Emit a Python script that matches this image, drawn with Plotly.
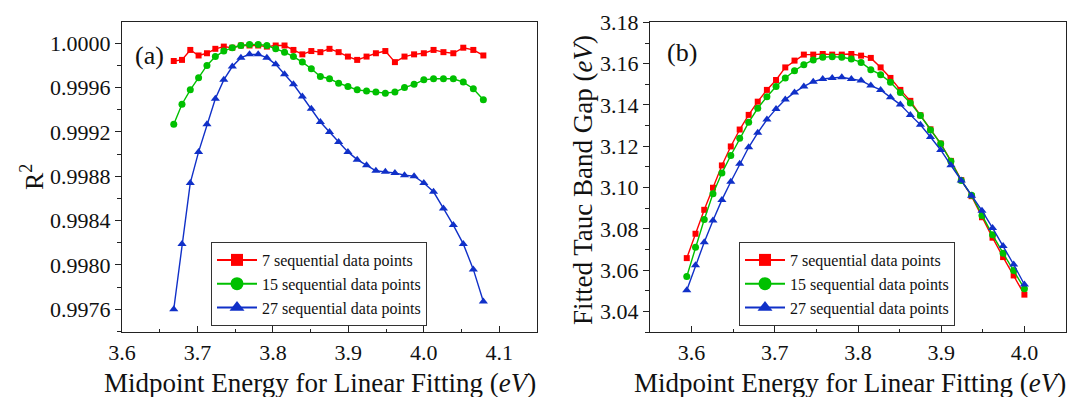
import plotly.graph_objects as go

# ---- Panel (a): R^2 vs midpoint energy ----
energy_a = [3.6686, 3.6795, 3.6905, 3.7015, 3.7126, 3.7237, 3.7349, 3.7462, 3.7576,
            3.7690, 3.7805, 3.7920, 3.8037, 3.8154, 3.8272, 3.8390, 3.8509, 3.8629,
            3.8750, 3.8871, 3.8994, 3.9117, 3.9241, 3.9365, 3.9490, 3.9617, 3.9744,
            3.9871, 4.0000, 4.0129, 4.0260, 4.0391, 4.0523, 4.0656, 4.0789]
r2_7 = [0.99984, 0.99985, 0.99994, 0.99989, 0.99991, 0.99995, 0.99997, 0.99996, 0.99998,
        0.99998, 0.99998, 0.99997, 0.99998, 0.99998, 0.99994, 0.99990, 0.99993, 0.99992,
        0.99995, 0.99992, 0.99988, 0.99985, 0.99988, 0.99991, 0.99993, 0.99983, 0.99988,
        0.99990, 0.99991, 0.99994, 0.99992, 0.99991, 0.99996, 0.99994, 0.99989]
r2_15 = [0.99927, 0.99945, 0.99958, 0.99969, 0.99980, 0.99988, 0.99993, 0.99996, 0.99998,
         0.99999, 0.99999, 0.99998, 0.99995, 0.99992, 0.99988, 0.99983, 0.99977, 0.99970,
         0.99968, 0.99964, 0.99961, 0.99958, 0.99957, 0.99956, 0.99955, 0.99956, 0.99960,
         0.99963, 0.99967, 0.99968, 0.99968, 0.99968, 0.99965, 0.99959, 0.99949]
r2_27 = [0.99760, 0.99819, 0.99874, 0.99902, 0.99927, 0.99950, 0.99967, 0.99979, 0.99987,
         0.99990, 0.99990, 0.99987, 0.99981, 0.99972, 0.99963, 0.99952, 0.99941, 0.99929,
         0.99920, 0.99911, 0.99902, 0.99895, 0.99890, 0.99885, 0.99884, 0.99883, 0.99881,
         0.99880, 0.99874, 0.99866, 0.99851, 0.99836, 0.99819, 0.99796, 0.99767]

# ---- Panel (b): fitted Tauc band gap vs midpoint energy ----
energy_b = [3.5942, 3.6047, 3.6152, 3.6257, 3.6364, 3.6471, 3.6578, 3.6686, 3.6795,
            3.6905, 3.7015, 3.7126, 3.7237, 3.7349, 3.7462, 3.7576, 3.7690, 3.7805,
            3.7920, 3.8037, 3.8154, 3.8272, 3.8390, 3.8509, 3.8629, 3.8750, 3.8871,
            3.8994, 3.9117, 3.9241, 3.9365, 3.9490, 3.9617, 3.9744, 3.9871, 4.0000]
gap_7 = [3.0658, 3.0776, 3.0892, 3.0999, 3.1107, 3.1199, 3.1281, 3.1352, 3.1416,
         3.1473, 3.1521, 3.1582, 3.1615, 3.1644, 3.1644, 3.1647, 3.1644, 3.1644,
         3.1647, 3.1639, 3.1628, 3.1582, 3.1531, 3.1473, 3.1420, 3.1350, 3.1282,
         3.1213, 3.1129, 3.1036, 3.0958, 3.0856, 3.0757, 3.0663, 3.0574, 3.0481]
gap_15 = [3.0569, 3.0711, 3.0845, 3.0970, 3.1070, 3.1155, 3.1239, 3.1316, 3.1384,
          3.1440, 3.1489, 3.1531, 3.1566, 3.1595, 3.1618, 3.1631, 3.1634, 3.1631,
          3.1623, 3.1606, 3.1571, 3.1547, 3.1510, 3.1461, 3.1410, 3.1349, 3.1279,
          3.1212, 3.1127, 3.1034, 3.0962, 3.0865, 3.0771, 3.0682, 3.0598, 3.0510]
gap_27 = [3.0502, 3.0623, 3.0735, 3.0840, 3.0940, 3.1028, 3.1115, 3.1195, 3.1265,
          3.1329, 3.1381, 3.1426, 3.1461, 3.1490, 3.1513, 3.1526, 3.1531, 3.1534,
          3.1526, 3.1518, 3.1494, 3.1473, 3.1437, 3.1402, 3.1352, 3.1304, 3.1245,
          3.1182, 3.1108, 3.1034, 3.0960, 3.0888, 3.0804, 3.0717, 3.0627, 3.0530]

series_names = ["7 sequential data points", "15 sequential data points", "27 sequential data points"]
colors = ["#FF0000", "#00C000", "#1030C8"]
symbols = ["square", "circle", "triangle-up"]
msizes = [6, 7, 8]
legend_msizes = [12, 13, 13]

FONT = "Liberation Serif"
W, H = 1067, 397

fig = go.Figure()

panels = [
    ("x", "y", "legend", energy_a, [r2_7, r2_15, r2_27]),
    ("x2", "y2", "legend2", energy_b, [gap_7, gap_15, gap_27]),
]
for xa, ya, lg, xs, ys_list in panels:
    for i, ys in enumerate(ys_list):
        fig.add_trace(go.Scatter(
            x=xs, y=ys, xaxis=xa, yaxis=ya, mode="lines+markers",
            line=dict(color=colors[i], width=1.4),
            marker=dict(symbol=symbols[i], size=msizes[i], color=colors[i]),
            name=series_names[i], showlegend=False, legend=lg))
    for i in range(3):
        fig.add_trace(go.Scatter(
            x=[None], y=[None], xaxis=xa, yaxis=ya, mode="lines+markers",
            line=dict(color=colors[i], width=2),
            marker=dict(symbol=symbols[i], size=legend_msizes[i], color=colors[i]),
            name=series_names[i], showlegend=True, legend=lg))

def px_x(p):
    return p / W

def px_y(p):
    return 1 - p / H

axis_common = dict(showline=True, linecolor="#222", linewidth=1.4, mirror=True,
                   showgrid=False, zeroline=False, automargin=False,
                   tickfont=dict(family=FONT, size=22, color="#111"))

legend_common = dict(xanchor="left", yanchor="top", bgcolor="white", bordercolor="#333",
                     borderwidth=1, font=dict(family=FONT, size=16, color="#111"),
                     itemwidth=40, tracegroupgap=0)

fig.update_layout(
    template="none",
    width=W, height=H, margin=dict(l=0, r=0, t=0, b=0, pad=0),
    paper_bgcolor="white", plot_bgcolor="white",
    font=dict(family=FONT, color="#111"),
    xaxis=dict(domain=[px_x(122), px_x(537)], range=[3.6, 4.15], dtick=0.1, tick0=3.6,
               tickformat=".1f", ticks="inside", ticklen=6, tickcolor="#222", tickwidth=1.2,
               minor=dict(dtick=0.05, tick0=3.6, ticks="inside", ticklen=3, tickcolor="#222"),
               anchor="y", **axis_common),
    yaxis=dict(domain=[px_y(332), px_y(22)], range=[0.997395, 1.000192], dtick=0.0004,
               tick0=0.9976, tickformat=".4f", ticks="outside", ticklen=6, tickcolor="#222", tickwidth=1.2,
               minor=dict(dtick=0.0002, tick0=0.9976, ticks="outside", ticklen=4, tickcolor="#222"),
               anchor="x", **axis_common),
    xaxis2=dict(domain=[px_x(650), px_x(1066)], range=[3.55, 4.05], dtick=0.1, tick0=3.6,
                tickformat=".1f", ticks="inside", ticklen=6, tickcolor="#222", tickwidth=1.2,
                minor=dict(dtick=0.05, tick0=3.55, ticks="inside", ticklen=3, tickcolor="#222"),
                anchor="y2", **axis_common),
    yaxis2=dict(domain=[px_y(332), px_y(22)], range=[3.03, 3.1802], dtick=0.02, tick0=3.04,
                tickformat=".2f", ticks="outside", ticklen=6, tickcolor="#222", tickwidth=1.2,
                minor=dict(dtick=0.01, tick0=3.04, ticks="outside", ticklen=4, tickcolor="#222"),
                anchor="x2", **axis_common),
    legend=dict(x=px_x(211), y=px_y(242), **legend_common),
    legend2=dict(x=px_x(739), y=px_y(242), **legend_common),
)

annotations = [
    dict(text="Midpoint Energy for Linear Fitting (<i>eV</i>)", x=px_x(320), y=px_y(383),
         textangle=0, size=27),
    dict(text="Midpoint Energy for Linear Fitting (<i>eV</i>)", x=px_x(850), y=px_y(383),
         textangle=0, size=27),
    dict(text="R<sup>2</sup>", x=px_x(32), y=px_y(177), textangle=-90, size=26),
    dict(text="Fitted Tauc Band Gap (<i>eV</i>)", x=px_x(583), y=px_y(180), textangle=-90, size=27),
    dict(text="(a)", x=px_x(149), y=px_y(55), textangle=0, size=26),
    dict(text="(b)", x=px_x(682), y=px_y(53), textangle=0, size=26),
]
for a in annotations:
    fig.add_annotation(text=a["text"], x=a["x"], y=a["y"], xref="paper", yref="paper",
                       xanchor="center", yanchor="middle", showarrow=False,
                       textangle=a["textangle"],
                       font=dict(family=FONT, size=a["size"], color="#111"))

fig.write_html("out.html")
